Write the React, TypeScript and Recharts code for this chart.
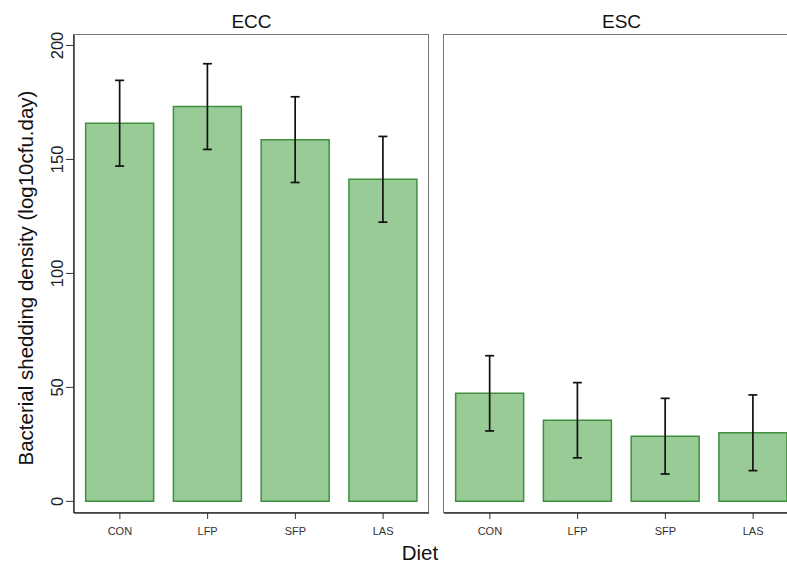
import React from 'react';
import { BarChart, Bar, XAxis, YAxis, ErrorBar } from 'recharts';

const diets = ['CON', 'LFP', 'SFP', 'LAS'];
const eccMeans = [165.9, 173.2, 158.7, 141.3];
const eccErrors = [18.8, 18.8, 18.8, 18.8];
const escMeans = [47.4, 35.6, 28.6, 30.1];
const escErrors = [16.5, 16.5, 16.6, 16.6];
const yTicks = [0, 50, 100, 150, 200];
const panelTitles = ['ECC', 'ESC'];

const Y_DOMAIN: [number, number] = [-5.1, 204.6];
const FONT = '"Liberation Sans", Arial, sans-serif';
const FILL = '#99cb97';
const EDGE = '#3f8f3f';
const PANEL_LEFT = [74, 444];
const PANEL_W = 355;

const build = (means: number[], errs: number[]) =>
  diets.map((d, i) => ({ diet: d, mean: means[i], err: errs[i] }));

const eccData = build(eccMeans, eccErrors);
const escData = build(escMeans, escErrors);

const YTick: React.FC<any> = ({ x, y, payload }) => {
  const bx = x - 1;
  return (
    <text
      x={bx}
      y={y}
      transform={`rotate(-90 ${bx} ${y})`}
      textAnchor="middle"
      fontSize={16.5}
      fontFamily={FONT}
      fill="#222"
    >
      {payload.value}
    </text>
  );
};

const XTick: React.FC<any> = ({ x, y, payload }) => (
  <text x={x} y={y + 14} textAnchor="middle" fontSize={11} fontFamily={FONT} fill="#333">
    {payload.value}
  </text>
);

interface PanelProps {
  data: { diet: string; mean: number; err: number }[];
  showY: boolean;
}

const Panel: React.FC<PanelProps> = ({ data, showY }) => {
  const leftW = showY ? 74 : 0;
  return (
    <BarChart
      width={leftW + PANEL_W}
      height={565}
      data={data}
      margin={{ top: 35, right: 0, bottom: 22, left: 0 }}
      barCategoryGap="11%"
    >
      <XAxis
        dataKey="diet"
        height={30}
        tick={<XTick />}
        tickLine={{ stroke: '#333' }}
        tickSize={6}
        axisLine={{ stroke: '#333', strokeWidth: 1.5 }}
        padding={{ left: 2, right: 2 }}
      />
      <YAxis
        domain={Y_DOMAIN}
        ticks={yTicks}
        allowDataOverflow
        width={leftW}
        tick={showY ? <YTick /> : false}
        tickLine={showY ? { stroke: '#333' } : false}
        tickSize={8}
        axisLine={showY ? { stroke: '#333', strokeWidth: 1.5 } : false}
      />
      <Bar
        dataKey="mean"
        fill={FILL}
        stroke={EDGE}
        strokeWidth={1.5}
        isAnimationActive={false}
      >
        <ErrorBar dataKey="err" width={4.5} stroke="#111" strokeWidth={1.7} />
      </Bar>
    </BarChart>
  );
};

const App: React.FC = () => (
  <div
    style={{
      position: 'absolute',
      left: 0,
      top: 0,
      width: 787,
      height: 565,
      overflow: 'hidden',
      background: '#fff',
      fontFamily: FONT,
    }}
  >
    {PANEL_LEFT.map((l) => (
      <div
        key={l}
        style={{
          position: 'absolute',
          left: l - 0.75,
          top: 34.25,
          width: PANEL_W - 1.5,
          height: 477.75 - 1.5,
          border: '1.5px solid #777',
        }}
      />
    ))}
    <div style={{ position: 'absolute', left: 0, top: 0 }}>
      <Panel data={eccData} showY />
    </div>
    <div style={{ position: 'absolute', left: 444, top: 0 }}>
      <Panel data={escData} showY={false} />
    </div>
    {panelTitles.map((t, i) => (
      <div
        key={t}
        style={{
          position: 'absolute',
          left: PANEL_LEFT[i],
          width: PANEL_W,
          top: 10,
          textAlign: 'center',
          fontSize: 19,
          color: '#111',
          lineHeight: '24px',
        }}
      >
        {t}
      </div>
    ))}
    <div
      style={{
        position: 'absolute',
        left: 26 - 250,
        top: 278 - 13,
        width: 500,
        height: 26,
        lineHeight: '26px',
        textAlign: 'center',
        fontSize: 20.5,
        color: '#111',
        transform: 'rotate(-90deg)',
      }}
    >
      Bacterial shedding density (log10cfu.day)
    </div>
    <div
      style={{
        position: 'absolute',
        left: 370,
        width: 100,
        top: 540,
        textAlign: 'center',
        fontSize: 20.5,
        color: '#111',
        lineHeight: '26px',
      }}
    >
      Diet
    </div>
  </div>
);

export default App;
